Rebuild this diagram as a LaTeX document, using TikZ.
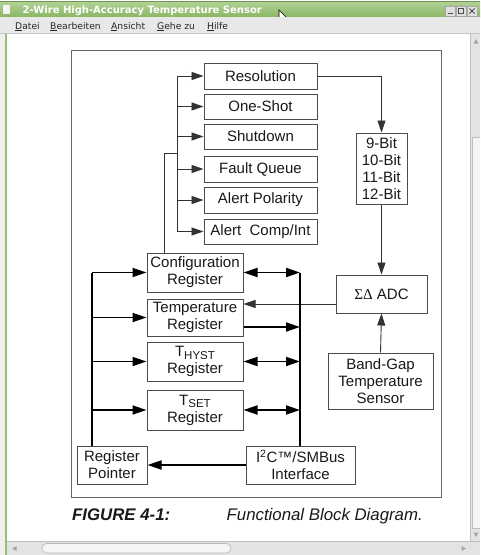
\documentclass[tikz,border=0pt]{standalone}
\usepackage{fontspec}
\setmainfont{Liberation Sans}
\newfontfamily\uifont{DejaVu Sans}
\newfontfamily\grkfont{Liberation Serif}
\usetikzlibrary{arrows.meta}
\definecolor{titletop}{RGB}{178,210,150}
\definecolor{titlebot}{RGB}{138,182,100}
\definecolor{titleline}{RGB}{110,150,80}
\definecolor{leftgreen}{RGB}{150,190,120}
\begin{document}
\begin{tikzpicture}[x=1pt,y=-1pt,
  box/.style={draw=black!70, line width=1pt, fill=white, inner sep=0pt, align=center,
    text=black!90, font=\fontsize{15}{16.8}\selectfont},
  thinline/.style={draw=black!80, line width=0.9pt},
  ttip/.style={-{Triangle[length=12pt,width=8pt]}},
  busline/.style={draw=black, line width=1.8pt},
  btip/.style={-{Triangle[length=14pt,width=9pt]}},
  bboth/.style={{Triangle[length=14pt,width=9pt]}-{Triangle[length=14pt,width=9pt]}},
  menuitem/.style={anchor=base west, inner sep=0pt, text=black!85, font=\uifont\fontsize{9.2}{10}\selectfont},
  captext/.style={anchor=base west, inner sep=0pt, text=black!90, font=\fontsize{16.8}{18}\selectfont\itshape}
]
\useasboundingbox (0,0) rectangle (480,555);
% ---------- window chrome ----------
\fill[white] (0,0) rectangle (480,555);
\shade[top color=titletop, bottom color=titlebot] (0,1.5) rectangle (480,17);
\draw[titleline, line width=0.6pt] (0,1.5) -- (480,1.5);
\fill[white!90!gray] (3,4.5) rectangle (10,14);
\node[anchor=base west, inner sep=0pt, text=white, font=\uifont\bfseries\fontsize{10}{10}\selectfont] (title) at (22.5,13.5) {2-Wire High-Accuracy Temperature Sensor};
\foreach \bx in {445,456,467}{
  \fill[gray!25] (\bx,6) rectangle (\bx+10,16);
  \draw[gray!70, line width=0.5pt] (\bx,6) rectangle (\bx+10,16);
}
\draw[black!70, line width=1pt] (447.5,13) -- (452.5,13);
\draw[black!70, line width=0.8pt] (458.5,8.5) rectangle (463.5,13.5);
\draw[black!70, line width=1pt] (469.5,8.5) -- (474.5,13.5) (469.5,13.5) -- (474.5,8.5);
% cursor
\filldraw[fill=white, draw=black, line width=0.6pt] (279,10) -- (279,24) -- (282.3,20.8) -- (284.6,26) -- (286.6,25) -- (284.4,20) -- (289,20) -- cycle;
% menu bar
\fill[gray!18] (0,17) rectangle (480,34);
\draw[gray!45, line width=0.5pt] (0,33.7) -- (480,33.7);
\node[menuitem] (m1) at (15,29) {\underline{D}atei};
\node[menuitem] (m2) at (50,29) {\underline{B}earbeiten};
\node[menuitem] (m3) at (111,29) {\underline{A}nsicht};
\node[menuitem] (m4) at (157,29) {\underline{G}ehe zu};
\node[menuitem] (m5) at (207,29) {\underline{H}ilfe};
% left border
\fill[gray!12] (0,34) rectangle (5,555);
\draw[leftgreen, line width=1.5pt] (6,34) -- (6,555);
% vertical scrollbar
\fill[gray!22] (470.5,34) rectangle (480,541);
\draw[gray!50, line width=0.5pt] (470.5,34) -- (470.5,541);
\fill[gray!8] (472.5,137) rectangle (480,528);
\draw[gray!50, line width=0.5pt] (480,137) -- (472.5,137) -- (472.5,528) -- (480,528);
\fill[gray!70] (476,39) -- (478.5,43.5) -- (473.5,43.5) -- cycle;
\fill[gray!70] (476,537) -- (478.5,532.5) -- (473.5,532.5) -- cycle;
% horizontal scrollbar
\fill[gray!22] (7,541) rectangle (480,555);
\draw[gray!50, line width=0.5pt] (7,541) -- (480,541);
\draw[gray!55, fill=gray!8, line width=0.6pt, rounded corners=4.5pt] (42,543.5) rectangle (231,553);
\fill[gray!70] (12,548.5) -- (16.5,546) -- (16.5,551) -- cycle;
\fill[gray!70] (466,548.5) -- (461.5,546) -- (461.5,551) -- cycle;
% ---------- diagram ----------
\draw[black!60, line width=0.9pt] (71,50) rectangle (441,497);
% config tree boxes
\node[box, minimum width=113pt, minimum height=26pt] (res) at (260.5,76) {Resolution};
\node[box, minimum width=113pt, minimum height=25pt] (one) at (260.5,106.5) {One-Shot};
\node[box, minimum width=113pt, minimum height=25pt] (shut) at (260.5,136.5) {Shutdown};
\node[box, minimum width=113pt, minimum height=26pt] (fault) at (260.5,169) {Fault Queue};
\node[box, minimum width=113pt, minimum height=26pt] (pol) at (260.5,200) {Alert Polarity};
\node[box, minimum width=113pt, minimum height=25pt] (comp) at (260.5,231.5) {Alert\ \ Comp/Int};
% registers
\node[box, minimum width=96pt, minimum height=39pt] (conf) at (195,272.5) {Configuration\\Register};
\node[box, minimum width=96pt, minimum height=37pt] (temp) at (195,317.5) {Temperature\\Register};
\node[box, minimum width=96pt, minimum height=39pt] (thyst) at (195,361.5) {T\raisebox{-0.35ex}{\fontsize{11.5}{11.5}\selectfont HYST}\\Register};
\node[box, minimum width=96pt, minimum height=40pt] (tset) at (195,410) {T\raisebox{-0.35ex}{\fontsize{11.5}{11.5}\selectfont SET}\\Register};
\node[box, minimum width=70pt, minimum height=38pt] (rp) at (112,465) {Register\\Pointer};
\node[box, minimum width=109pt, minimum height=38pt] (i2c) at (300.5,465) {I\textsuperscript{2}C™/SMBus\\Interface};
% right column
\node[box, minimum width=51pt, minimum height=71pt] (bits) at (381.5,168.5) {9-Bit\\10-Bit\\11-Bit\\12-Bit};
\node[box, minimum width=91pt, minimum height=38pt] (adc) at (381.5,294) {{\grkfont ΣΔ} ADC};
\node[box, minimum width=105pt, minimum height=56pt] (bg) at (380.5,381) {Band-Gap\\Temperature\\Sensor};
% coordinates
\coordinate (tt) at (177,76);
\coordinate (tb) at (177,231.5);
\coordinate (cj) at (177,153);
\coordinate (cu) at (164,153);
\coordinate (lt) at (92,272.5);
\coordinate (rt) at (300,272.5);
\coordinate (rc) at (381.5,76);
% tree
\draw[thinline] (tt) -- (tb);
\foreach \n in {res,one,shut,fault,pol,comp}{
  \draw[thinline,ttip] (tt |- \n.west) -- (\n.west);
}
\draw[thinline] (conf.north -| cu) -- (cu) -- (cj);
% resolution to bits, adc
\draw[thinline,ttip] (res.east) -- (rc) -- (bits.north);
\draw[thinline,ttip] (bits.south) -- (adc.north);
\draw[thinline,ttip] (bg.north) -- (adc.south);
\draw[thinline,ttip] (adc.west |- 0,304) -- (temp.east |- 0,304);
% left bus
\draw[busline] (lt) -- (lt |- rp.north);
\foreach \n in {conf,temp,thyst,tset}{
  \draw[busline,btip] (lt |- \n.west) -- (\n.west);
}
% right bus
\draw[busline] (rt) -- (rt |- i2c.north);
\draw[busline,bboth] (conf.east) -- (rt |- conf.east);
\draw[busline,btip] (temp.east |- 0,327) -- (rt |- 0,327);
\draw[busline,bboth] (thyst.east) -- (rt |- thyst.east);
\draw[busline,bboth] (tset.east) -- (rt |- tset.east);
\draw[busline,btip] (i2c.west) -- (rp.east);
% caption
\node[captext, font=\fontsize{16.8}{18}\selectfont\bfseries\itshape] (fig) at (72,520) {FIGURE 4-1:};
\node[captext] (capt) at (226.5,520) {Functional Block Diagram.};
\end{tikzpicture}
\end{document}
